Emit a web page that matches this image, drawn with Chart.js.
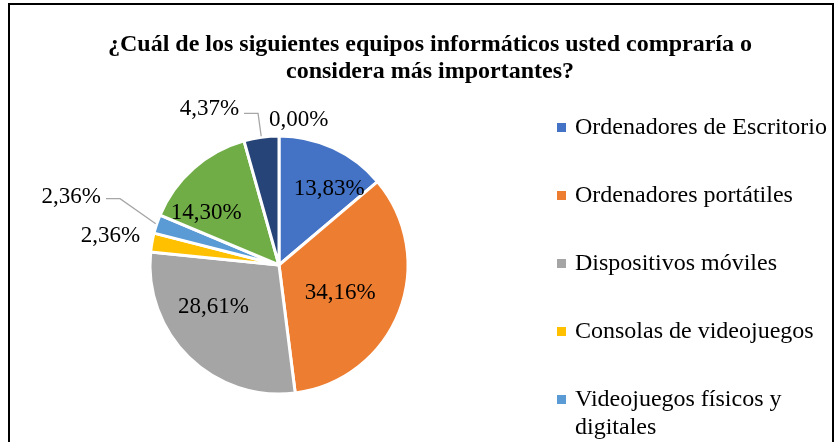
<!DOCTYPE html>
<html><head><meta charset="utf-8">
<script src="https://cdn.jsdelivr.net/npm/chart.js@4/dist/chart.umd.min.js"></script>
<style>
html,body{margin:0;padding:0;background:#fff;overflow:hidden;width:838px;height:442px;}
#wrap{position:relative;width:838px;height:442px;overflow:hidden;}
#frame{position:absolute;left:8px;top:3px;width:822px;height:600px;border:2px solid #000;pointer-events:none;}
canvas{position:absolute;left:0;top:0;}
</style></head><body>
<div id="wrap"><canvas id="c" width="838" height="442"></canvas><div id="frame"></div></div>
<script>
const titleLines = ['¿Cuál de los siguientes equipos informáticos usted compraría o', 'considera más importantes?'];
const categories = ['Ordenadores de Escritorio', 'Ordenadores portátiles', 'Dispositivos móviles', 'Consolas de videojuegos', 'Videojuegos físicos y digitales', 'Periféricos', 'Componentes', 'Otros'];
const values = [13.83, 34.16, 28.61, 2.36, 2.36, 14.30, 4.37, 0.00];
const colors = ['#4472C4', '#ED7D31', '#A5A5A5', '#FFC000', '#5B9BD5', '#70AD47', '#264478', '#9E480E'];

const valueLabels = values.map(v => v.toFixed(2).replace('.', ',') + '%');
// label placement style per slice (Excel "best fit" nudges)
const labelStyle = [
  {mode: 'inside', f: 0.63, dx: 16, dy: -2},
  {mode: 'inside', f: 0.6, dx: -11, dy: 0},
  {mode: 'inside', f: 0.66, dx: -6, dy: -19},
  {mode: 'outside', gap: 12, dx: 0, dy: -4},
  {mode: 'leader', len: 45, edx: 6, edy: -11, dy: -2},
  {mode: 'inside', f: 0.7, dx: -13, dy: 16},
  {mode: 'leader', len: 24, edx: 0, edy: 0, dy: -4},
  {mode: 'outside', gap: 16, dx: -10, dy: 0}
];

const serif = '"Liberation Serif", "Times New Roman", serif';

const titlePlugin = {
  id: 'docTitle',
  afterDraw(chart) {
    const ctx = chart.ctx;
    ctx.save();
    ctx.font = 'bold 24px ' + serif;
    ctx.fillStyle = '#000';
    ctx.textAlign = 'center';
    ctx.textBaseline = 'middle';
    titleLines.forEach((t, i) => ctx.fillText(t, 430, 45 + i * 27));
    ctx.restore();
  }
};

const legendPlugin = {
  id: 'docLegend',
  afterDraw(chart) {
    const ctx = chart.ctx;
    ctx.save();
    ctx.font = '24px ' + serif;
    ctx.textBaseline = 'middle';
    ctx.textAlign = 'left';
    const maxW = 258;
    let y = 128;
    categories.forEach((name, i) => {
      const words = name.split(' ');
      const lines = [];
      let cur = '';
      words.forEach(w => {
        const test = cur ? cur + ' ' + w : w;
        if (ctx.measureText(test).width > maxW && cur) { lines.push(cur); cur = w; }
        else cur = test;
      });
      lines.push(cur);
      ctx.fillStyle = colors[i];
      ctx.fillRect(557, y - 5, 9, 9);
      ctx.fillStyle = '#000';
      lines.forEach((l, j) => ctx.fillText(l, 575, y + j * 28));
      y += 68 + (lines.length - 1) * 28;
    });
    ctx.restore();
  }
};

const labelPlugin = {
  id: 'sliceLabels',
  afterDatasetsDraw(chart) {
    const ctx = chart.ctx;
    const meta = chart.getDatasetMeta(0);
    ctx.save();
    ctx.font = '23px ' + serif;
    ctx.fillStyle = '#000';
    ctx.textBaseline = 'middle';
    meta.data.forEach((arc, i) => {
      const p = arc.getProps(['x', 'y', 'startAngle', 'endAngle', 'outerRadius'], true);
      const mid = (p.startAngle + p.endAngle) / 2;
      const cx = Math.cos(mid), cy = Math.sin(mid);
      const R = p.outerRadius;
      const st = labelStyle[i];
      const txt = valueLabels[i];
      if (st.mode === 'inside') {
        ctx.textAlign = 'center';
        ctx.fillText(txt, p.x + cx * R * st.f + st.dx, p.y + cy * R * st.f + st.dy);
      } else if (st.mode === 'outside') {
        const ax = p.x + cx * (R + st.gap), ay = p.y + cy * (R + st.gap);
        ctx.textAlign = cx < -0.05 ? 'right' : 'left';
        ctx.fillText(txt, ax + st.dx, ay + st.dy);
      } else {
        const sx = p.x + cx * (R + 1), sy = p.y + cy * (R + 1);
        const ex = p.x + cx * (R + st.len) + st.edx, ey = p.y + cy * (R + st.len) + st.edy;
        const side = cx < 0 ? -1 : 1;
        const hx = ex + side * 14;
        ctx.strokeStyle = '#A6A6A6';
        ctx.lineWidth = 1.3;
        ctx.beginPath();
        ctx.moveTo(sx, sy); ctx.lineTo(ex, ey); ctx.lineTo(hx, ey);
        ctx.stroke();
        ctx.textAlign = side < 0 ? 'right' : 'left';
        ctx.fillText(txt, hx + side * 5, ey + st.dy);
      }
    });
    ctx.restore();
  }
};

new Chart(document.getElementById('c'), {
  type: 'pie',
  data: {
    labels: categories,
    datasets: [{
      data: values,
      backgroundColor: colors,
      borderColor: '#FFFFFF',
      borderWidth: 3,
      radius: 129
    }]
  },
  options: {
    responsive: false,
    animation: false,
    events: [],
    layout: {padding: {left: 140, right: 420, top: 130, bottom: 42}},
    plugins: {legend: {display: false}, title: {display: false}, tooltip: {enabled: false}}
  },
  plugins: [labelPlugin, titlePlugin, legendPlugin]
});
</script>
</body></html>
